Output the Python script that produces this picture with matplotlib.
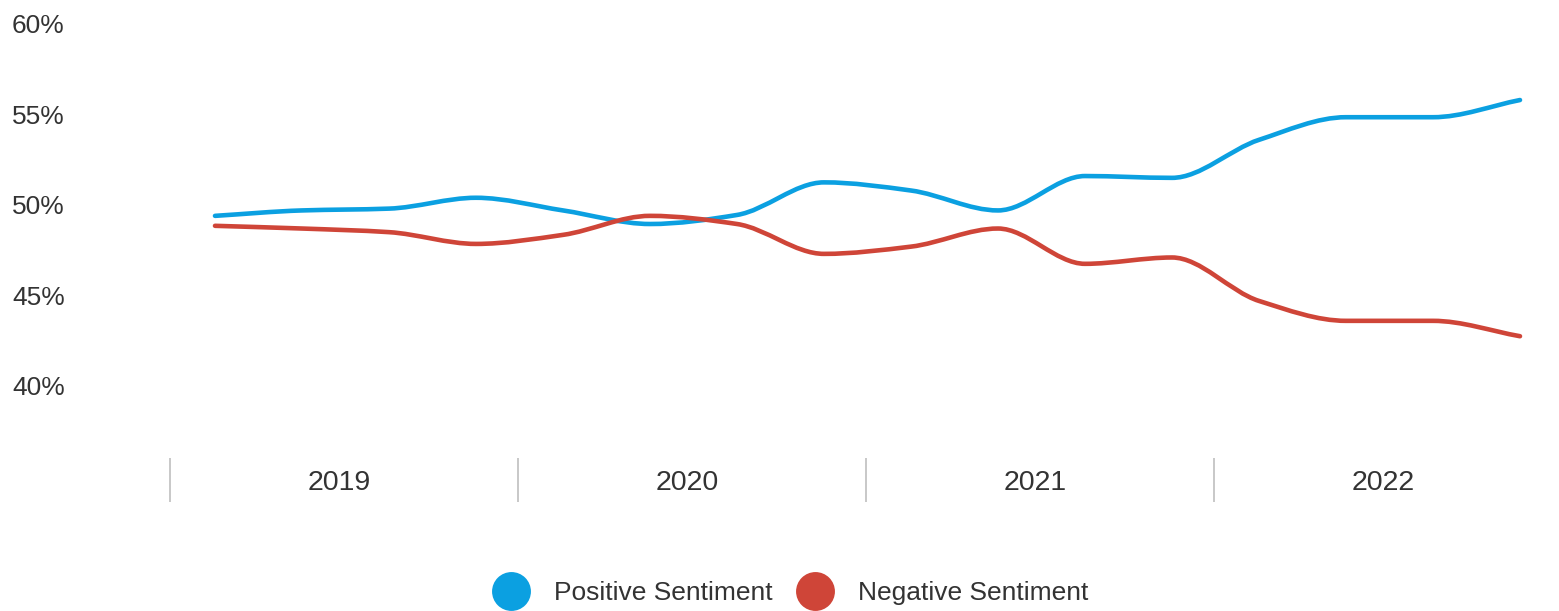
import matplotlib
matplotlib.use("Agg")
import matplotlib.pyplot as plt
import numpy as np
from matplotlib.path import Path
from matplotlib.patches import PathPatch
from matplotlib.lines import Line2D

plt.rcParams['font.family'] = ['Liberation Sans', 'DejaVu Sans']

# quarterly sentiment share, 2019 Q1 .. 2022 Q4
quarters = list(range(16))
positive = [49.4, 49.7, 49.8, 50.4, 49.7, 48.95, 49.45, 51.25,
            50.8, 49.7, 51.6, 51.5, 53.6, 54.85, 54.85, 55.8]
negative = [48.85, 48.7, 48.5, 47.85, 48.35, 49.4, 48.95, 47.3,
            47.7, 48.7, 46.75, 47.1, 44.7, 43.6, 43.6, 42.75]
years = ['2019', '2020', '2021', '2022']
y_ticks = [40, 45, 50, 55, 60]

blue = '#0ba0e1'
red = '#cf4538'
text_col = '#333333'


def monotone_path(xs, ys):
    """Fritsch-Carlson monotone cubic, as bezier segments"""
    xs = np.asarray(xs, float)
    ys = np.asarray(ys, float)
    h = np.diff(xs)
    d = np.diff(ys) / h
    m = np.zeros_like(ys)
    m[0], m[-1] = d[0], d[-1]
    for k in range(1, len(ys) - 1):
        if d[k - 1] * d[k] <= 0:
            m[k] = 0
        else:
            w1 = 2 * h[k] + h[k - 1]
            w2 = h[k] + 2 * h[k - 1]
            m[k] = (w1 + w2) / (w1 / d[k - 1] + w2 / d[k])
    verts = [(xs[0], ys[0])]
    codes = [Path.MOVETO]
    for k in range(len(xs) - 1):
        verts += [(xs[k] + h[k] / 3, ys[k] + m[k] * h[k] / 3),
                  (xs[k + 1] - h[k] / 3, ys[k + 1] - m[k + 1] * h[k] / 3),
                  (xs[k + 1], ys[k + 1])]
        codes += [Path.CURVE4] * 3
    return Path(verts, codes)


fig = plt.figure(figsize=(15.59, 6.11), dpi=100)
ax = fig.add_axes([171.5 / 1559, 1 - 420 / 611, 1 - 171.5 / 1559, 420 / 611])

for series, col in [(positive, blue), (negative, red)]:
    ax.add_patch(PathPatch(monotone_path(quarters, series), facecolor='none',
                           edgecolor=col, lw=3.3, capstyle='round'))

ax.set_xlim(-0.5, (1559 - 215) / 87)
ax.set_ylim(50 - (420 - 205) / 18.1, 50 + 205 / 18.1)

ax.set_yticks(y_ticks)
ax.set_yticklabels([f'{t}%' for t in y_ticks], fontsize=19, color=text_col)
ax.tick_params(axis='y', length=0, pad=114.8)
for lbl in ax.get_yticklabels():
    lbl.set_ha('left')
ax.set_xticks([])
for s in ax.spines.values():
    s.set_visible(False)

trans = ax.get_xaxis_transform()
for i, yr in enumerate(years):
    ax.vlines(i * 4 - 0.5 - 2 / 87, -82 / 420, -38 / 420, transform=trans,
              color='#c4c4c4', lw=1.3, clip_on=False)
    ax.text(i * 4 + 1.5 - 6 / 87, -63 / 420, yr, transform=trans, ha='center',
            va='center', fontsize=20.5, color=text_col)

handles = [Line2D([], [], ls='none', marker='o', markersize=28,
                  markerfacecolor=blue, markeredgecolor='none'),
           Line2D([], [], ls='none', marker='o', markersize=28,
                  markerfacecolor=red, markeredgecolor='none')]
leg = fig.legend(handles, ['Positive Sentiment', 'Negative Sentiment'],
                 loc='center', bbox_to_anchor=(790 / 1559, 1 - 593 / 611),
                 ncol=2, frameon=False, fontsize=19, handlelength=1.44,
                 handletextpad=0.9, columnspacing=0.9, borderpad=0)
for t in leg.get_texts():
    t.set_color(text_col)

fig.savefig('out.png', dpi=100)
